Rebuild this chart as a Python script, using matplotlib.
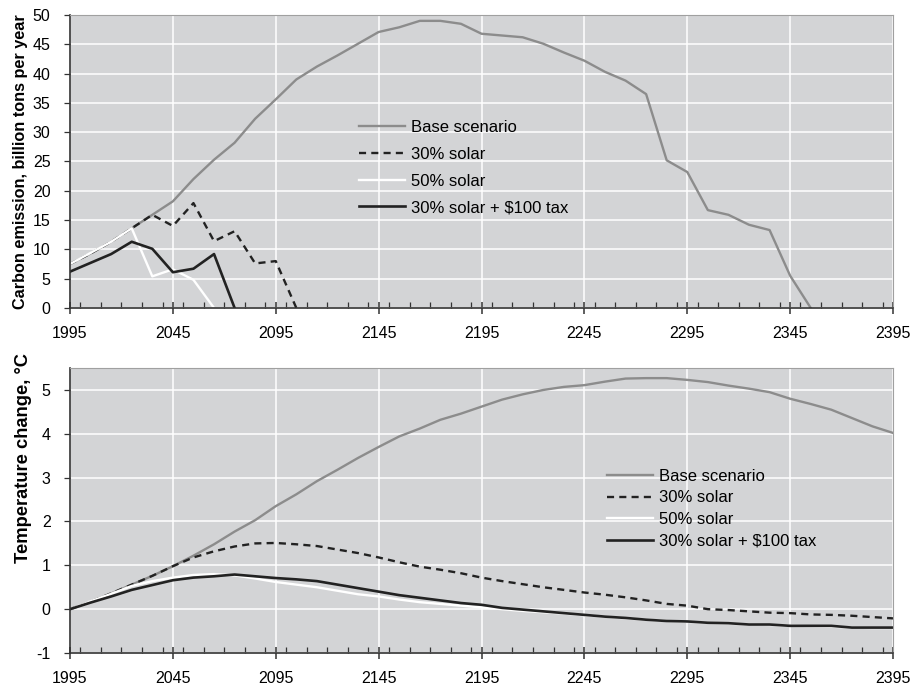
import numpy as np
import matplotlib.pyplot as plt
from matplotlib.ticker import MultipleLocator

plt.rcParams['font.family'] = ['Liberation Sans', 'DejaVu Sans']
plt.rcParams['axes.unicode_minus'] = False

years = np.arange(1995, 2396, 10)

# carbon emission, billion tons per year
emis_base = [7.5, 9.3, 11.3, 13.6, 15.9, 18.2, 22.0, 25.3, 28.2, 32.3, 35.6, 39.0, 41.2,
             43.1, 45.1, 47.1, 47.9, 49.0, 49.0, 48.5, 46.8, 46.5, 46.2, 45.1, 43.6, 42.2,
             40.3, 38.8, 36.5, 25.2, 23.2, 16.7, 15.9, 14.2, 13.3, 5.5, 0.0]
emis_30 = [7.5, 9.3, 11.3, 13.6, 15.9, 14.0, 17.9, 11.4, 13.1, 7.6, 8.0, 0.0]
emis_50 = [7.5, 9.4, 11.3, 13.6, 5.4, 6.6, 4.8, 0.0]
emis_tax = [6.2, 7.7, 9.2, 11.3, 10.1, 6.1, 6.7, 9.2, 0.0]

# temperature change, degrees C
temp_base = [0.0, 0.17, 0.36, 0.56, 0.76, 0.98, 1.22, 1.48, 1.77, 2.03, 2.35, 2.62, 2.92,
             3.18, 3.45, 3.70, 3.94, 4.12, 4.32, 4.46, 4.62, 4.78, 4.90, 5.00, 5.07, 5.11,
             5.19, 5.26, 5.27, 5.27, 5.23, 5.18, 5.10, 5.03, 4.95, 4.80, 4.68, 4.55, 4.36,
             4.17, 4.02]
temp_30 = [0.0, 0.17, 0.36, 0.56, 0.76, 0.98, 1.18, 1.32, 1.43, 1.50, 1.51, 1.48, 1.44,
           1.36, 1.28, 1.18, 1.07, 0.97, 0.90, 0.82, 0.72, 0.64, 0.57, 0.50, 0.44, 0.38,
           0.33, 0.27, 0.20, 0.12, 0.08, 0.0, -0.02, -0.05, -0.08, -0.09, -0.12, -0.13,
           -0.15, -0.18, -0.21]
temp_50 = [0.0, 0.18, 0.35, 0.53, 0.64, 0.72, 0.78, 0.80, 0.77, 0.70, 0.62, 0.56, 0.50,
           0.42, 0.34, 0.29, 0.22, 0.16, 0.12, 0.08, 0.04, 0.0, -0.04, -0.07, -0.10,
           -0.14, -0.17, -0.21, -0.24, -0.27, -0.29, -0.31, -0.33, -0.35, -0.36, -0.38,
           -0.39, -0.40, -0.42, -0.43, -0.43]
temp_tax = [0.0, 0.15, 0.29, 0.44, 0.55, 0.66, 0.72, 0.75, 0.79, 0.75, 0.71, 0.68, 0.64,
            0.56, 0.48, 0.40, 0.32, 0.26, 0.20, 0.14, 0.10, 0.03, -0.01, -0.05, -0.09,
            -0.13, -0.17, -0.20, -0.24, -0.27, -0.28, -0.31, -0.32, -0.35, -0.35, -0.38,
            -0.38, -0.38, -0.42, -0.42, -0.42]

labels = ['Base scenario', '30% solar', '50% solar', '30% solar + $100 tax']

bg = '#d3d4d6'
gray = '#8c8c8c'
dark = '#222222'


def style_axes(ax):
    ax.set_facecolor(bg)
    ax.set_xlim(1995, 2395)
    ax.set_xticks(np.arange(1995, 2396, 50))
    ax.xaxis.set_minor_locator(MultipleLocator(10))
    ax.grid(True, which='major', color='white', lw=1.1)
    ax.set_axisbelow(True)
    for s in ['top', 'right']:
        ax.spines[s].set_color('#a0a0a0')
    for s in ['left', 'bottom']:
        ax.spines[s].set_color('#333333')
        ax.spines[s].set_linewidth(1.2)
    ax.tick_params(axis='x', which='major', direction='inout', length=8, width=1.1,
                   color='#333333', labelsize=11.5, pad=9)
    ax.tick_params(axis='x', which='minor', direction='in', length=4, width=0.9,
                   color='#333333')
    ax.tick_params(axis='y', direction='out', length=4, width=0.9, color='#333333',
                   labelsize=11.5, pad=10)


def draw(ax, base, s30, s50, tax):
    ax.plot(years[:len(base)], base, color=gray, lw=1.7, label=labels[0])
    ax.plot(years[:len(s30)], s30, color=dark, lw=1.7, ls=(0, (3, 2.2)), label=labels[1])
    ax.plot(years[:len(s50)], s50, color='white', lw=1.7, label=labels[2])
    ax.plot(years[:len(tax)], tax, color=dark, lw=1.9, label=labels[3])


fig = plt.figure(figsize=(9.15, 6.85), dpi=100)
ax1 = fig.add_axes([0.0765, 0.5504, 0.8995, 0.4277])
ax2 = fig.add_axes([0.0765, 0.0467, 0.8995, 0.4160])

draw(ax1, emis_base, emis_30, emis_50, emis_tax)
style_axes(ax1)
ax1.set_ylim(0, 50)
ax1.set_yticks(np.arange(0, 51, 5))
ax1.set_ylabel('Carbon emission, billion tons per year', fontsize=11.7, fontweight='bold')
ax1.yaxis.set_label_coords(-0.051, 0.5)
ax1.legend(loc='upper left', bbox_to_anchor=(0.351, 0.641), frameon=False, fontsize=12,
           handlelength=2.75, handletextpad=0.35, labelspacing=0.7,
           borderpad=0, borderaxespad=0)

draw(ax2, temp_base, temp_30, temp_50, temp_tax)
style_axes(ax2)
ax2.set_ylim(-1, 5.5)
ax2.set_yticks(np.arange(-1, 6, 1))
ax2.set_ylabel('Temperature change, °C', fontsize=13.2, fontweight='bold')
ax2.yaxis.set_label_coords(-0.046, 0.684)
ax2.legend(loc='upper left', bbox_to_anchor=(0.6525, 0.646), frameon=False, fontsize=12,
           handlelength=2.75, handletextpad=0.35, labelspacing=0.39,
           borderpad=0, borderaxespad=0)

fig.savefig('out.png', dpi=100, facecolor='white')
